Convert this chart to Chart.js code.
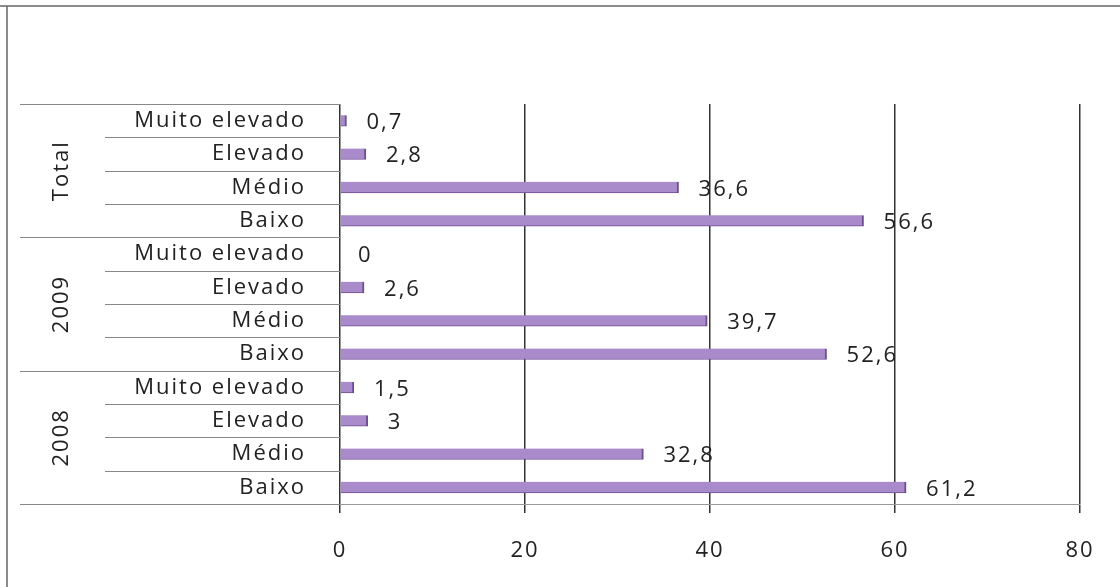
<!DOCTYPE html>
<html>
<head>
<meta charset="utf-8">
<script src="https://cdn.jsdelivr.net/npm/chart.js@4/dist/chart.umd.min.js"></script>
<style>
  html, body { margin: 0; padding: 0; background: #fff; }
  #wrap { width: 1120px; height: 587px; }
</style>
</head>
<body>
<div id="wrap"><canvas id="barChart"></canvas></div>
<script>
// categories, top to bottom
var groups = ['Total', '2009', '2008'];
var levels = ['Muito elevado', 'Elevado', 'Médio', 'Baixo'];
var totalValues = [0.7, 2.8, 36.6, 56.6];
var values2009 = [0, 2.6, 39.7, 52.6];
var values2008 = [1.5, 3, 32.8, 61.2];
var xTicks = [0, 20, 40, 60, 80];

var labels = [];
groups.forEach(function () { levels.forEach(function (l) { labels.push(l); }); });
var values = totalValues.concat(values2009, values2008);

var FONT = "'Open Sans', sans-serif";
var SIZE = 22;
var SPACING = '2px';

function fmt(v) { return String(v).replace('.', ','); }

// wider text like the scanned original
var spacing = {
  id: 'spacing',
  beforeUpdate: function (chart) { chart.ctx.letterSpacing = SPACING; },
  beforeDraw: function (chart) { chart.ctx.letterSpacing = SPACING; }
};

// group labels, row separators, value labels, frame
var extras = {
  id: 'extras',
  afterDraw: function (chart) {
    var ctx = chart.ctx, y = chart.scales.y, x = chart.scales.x, area = chart.chartArea;
    var n = labels.length;
    var step = (y.getPixelForValue(1) - y.getPixelForValue(0));
    ctx.save();
    // frame
    ctx.strokeStyle = '#666';
    ctx.lineWidth = 1.5;
    ctx.beginPath();
    ctx.moveTo(0, 6); ctx.lineTo(1120, 6);
    ctx.moveTo(7, 6); ctx.lineTo(7, 587);
    ctx.stroke();
    // separators
    ctx.strokeStyle = '#888';
    ctx.lineWidth = 1;
    for (var i = 0; i <= n; i++) {
      var py = Math.round(y.getPixelForValue(i) - step / 2) + 0.5;
      var startX = (i % levels.length === 0) ? 20 : 105;
      ctx.beginPath();
      ctx.moveTo(startX, py); ctx.lineTo(area.left, py);
      ctx.stroke();
    }
    // group labels rotated
    ctx.fillStyle = '#222';
    ctx.font = SIZE + 'px ' + FONT;
    ctx.textAlign = 'center';
    ctx.textBaseline = 'middle';
    groups.forEach(function (g, gi) {
      var c = (y.getPixelForValue(gi * levels.length) + y.getPixelForValue(gi * levels.length + levels.length - 1)) / 2;
      ctx.save();
      ctx.translate(62, c);
      ctx.rotate(-Math.PI / 2);
      ctx.fillText(g, 0, 0);
      ctx.restore();
    });
    // value labels
    ctx.textAlign = 'left';
    var meta = chart.getDatasetMeta(0);
    meta.data.forEach(function (bar, i) {
      var end = x.getPixelForValue(values[i]);
      ctx.fillText(fmt(values[i]), end + (values[i] === 0 ? 18 : 20), bar.y + 2);
    });
    ctx.restore();
  }
};

var ctx = document.getElementById('barChart').getContext('2d');
var barChart = new Chart(ctx, {
  type: 'bar',
  data: {
    labels: labels,
    datasets: [{
      data: values,
      backgroundColor: '#a98bcc',
      borderColor: '#6e4d93',
      borderWidth: { right: 2, bottom: 1, top: 0, left: 0 },
      borderSkipped: false,
      barThickness: 11
    }]
  },
  options: {
    indexAxis: 'y',
    responsive: true,
    maintainAspectRatio: false,
    animation: false,
    layout: { padding: { top: 104, right: 40, bottom: 0, left: 0 } },
    plugins: { legend: { display: false }, tooltip: { enabled: false } },
    scales: {
      x: {
        min: 0, max: 80,
        afterBuildTicks: function (s) { s.ticks = xTicks.map(function (v) { return { value: v }; }); },
        afterFit: function (s) { s.height = 83; },
        border: { display: true, color: '#999', width: 1 },
        grid: { color: '#333', lineWidth: 1.5, tickLength: 9, drawTicks: true },
        ticks: { color: '#222', font: { family: FONT, size: SIZE }, padding: 25 }
      },
      y: {
        afterFit: function (s) { s.width = 340; },
        border: { display: false },
        grid: { display: false },
        ticks: { color: '#222', font: { family: FONT, size: SIZE }, padding: 26, autoSkip: false }
      }
    }
  },
  plugins: [spacing, extras]
});
</script>
</body>
</html>
